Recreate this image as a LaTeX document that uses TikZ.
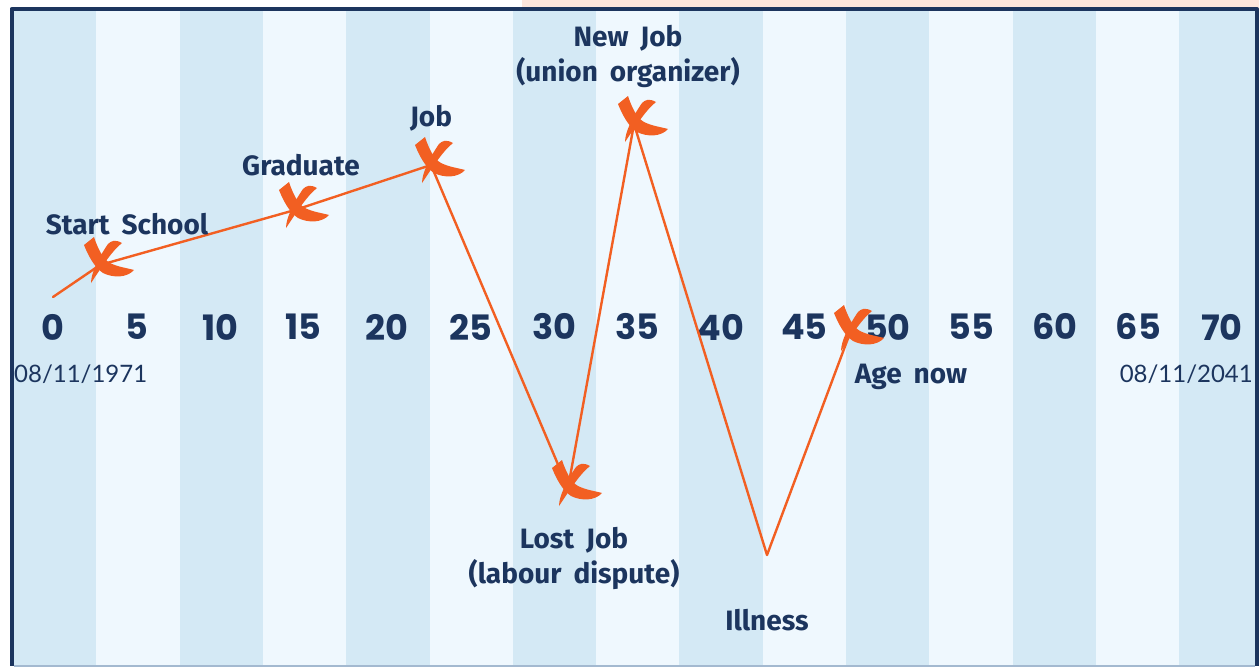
\documentclass[tikz,border=0pt]{standalone}
\usepackage{fontspec}
\setmainfont{Fira Sans}[WordSpace=1.8]
\newfontfamily\agefont{Poppins}
\newfontfamily\datefont{Lato}
\usepackage{tikz}
\usetikzlibrary{positioning}
\definecolor{navy}{HTML}{1C355E}
\definecolor{stripedark}{HTML}{D4E9F5}
\definecolor{stripelight}{HTML}{EFF8FE}
\definecolor{marker}{HTML}{F25F22}
\definecolor{blush}{HTML}{FDE6DC}
\definecolor{rule}{HTML}{A3B9D0}

\begin{document}
\begin{tikzpicture}[x=1pt,y=-1pt,line cap=round,line join=round,
  lbl/.style={text=navy,font=\fontsize{28}{35}\selectfont\bfseries,align=center,inner sep=0pt},
  age/.style={text=navy,font=\agefont\fontsize{35}{35}\selectfont\bfseries,inner sep=0pt},
  datelbl/.style={text=navy,font=\datefont\fontsize{24}{24}\selectfont,inner sep=0pt},
  lifeline/.style={draw=marker,line width=2.4pt},
  cross/.pic={
    \fill[marker] (-16,-20) -- (-6,-28) .. controls (-2,-16) and (3,-6) .. (10,-2)
      .. controls (18,2) and (27,3) .. (34,5) .. controls (27,13) and (13,13) .. (3,8)
      .. controls (-6,2) and (-12,-10) .. cycle;
    \fill[marker] (8,-21) .. controls (11,-24) and (15,-26) .. (22,-22)
      .. controls (12,-14) and (3,0) .. (-9,18)
      .. controls (-9,8) and (-1,-8) .. cycle;
  }]
\useasboundingbox (0,0) rectangle (1259,667);
\fill[white] (0,0) rectangle (1259,667);
\fill[blush] (522,0) rectangle (1259,9);

% columns, one per five years
\foreach \i in {0,2,...,14}
  \fill[stripedark] ({13+83.3*\i},9) rectangle ({13+83.3*(\i+1)},666);
\foreach \i in {1,3,...,13}
  \fill[stripelight] ({13+83.3*\i},9) rectangle ({13+83.3*(\i+1)},666);

% frame
\draw[navy,line width=4pt,line cap=butt] (1257,666) -- (1257,9) -- (11.5,9) -- (11.5,666);
\draw[rule,line width=1.5pt,line cap=butt] (13.5,666) -- (1255,666);

% ages
\foreach \a [count=\k from 0] in {0,5,...,70}
  \node[age] (age\a) at ({53+83.5*\k},327) {\a};
\node[datelbl,anchor=west] (born) at (14,374) {08/11/1971};
\node[datelbl,anchor=east] (until) at (1253,374) {08/11/2041};

% events
\coordinate (origin) at (53,297);
\coordinate (school) at (100,265);
\coordinate (grad) at (295,210);
\coordinate (job) at (431,165);
\coordinate (lost) at (568,488);
\coordinate (union) at (634,124);
\coordinate (ill) at (767,555);
\coordinate (now) at (850,333);

\draw[lifeline] (origin) -- (school) -- (grad) -- (job) -- (lost) -- (union) -- (ill) -- (now);
\foreach \p in {school,grad,job,lost,union,now}
  \pic at (\p) {cross};

\node[lbl] (tschool) at (127,224) {Start School};
\node[lbl] (tgrad) at (301,165) {Graduate};
\node[lbl] (tjob) at (431,118) {Job};
\node[lbl] (tunion) at (628,56) {New Job\\(union organizer)};
\node[lbl] (tlost) at (574,558) {Lost Job\\(labour dispute)};
\node[lbl] (till) at (767,620) {Illness};
\node[lbl] (tnow) at (911,377) {Age now};
\end{tikzpicture}
\end{document}
